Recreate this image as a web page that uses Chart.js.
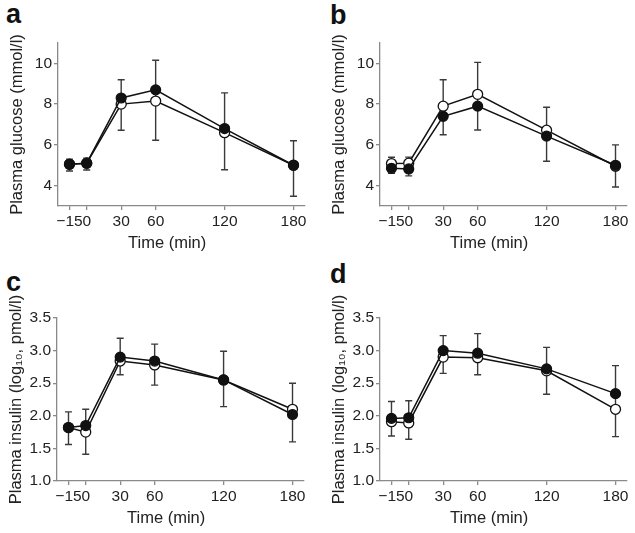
<!DOCTYPE html>
<html lang="en">
<head>
    <meta charset="UTF-8">
    <title>Plasma glucose and insulin</title>
<style>
body{margin:0;background:#fff;width:635px;height:533px;position:relative;overflow:hidden;font-family:'Liberation Sans',Arial,sans-serif}
canvas{position:absolute}
.lbl{position:absolute;font-weight:bold;font-size:27px;line-height:27px;color:#111}
</style>
</head>
<body>
<div class="lbl" style="left:6px;top:1px">a</div>
<div class="lbl" style="left:330px;top:2px">b</div>
<div class="lbl" style="left:6px;top:269px">c</div>
<div class="lbl" style="left:330px;top:261px">d</div>
<canvas id="chartA" width="317" height="265" style="left:0;top:0"></canvas>
<canvas id="chartB" width="317" height="265" style="left:322px;top:0"></canvas>
<canvas id="chartC" width="317" height="265" style="left:-1px;top:275px"></canvas>
<canvas id="chartD" width="317" height="265" style="left:322px;top:275px"></canvas>
</body>
<script src="https://cdn.jsdelivr.net/npm/chart.js"></script>
<script>
// time points (min)
var times=[-15,0,30,60,120,180];
var glucoseTicks=[4,6,8,10];
var insulinTicks=[1.0,1.5,2.0,2.5,3.0,3.5];

// a: plasma glucose
var aFilled=[5.05,5.1,8.3,8.7,6.8,5.0];
var aOpen=[5.05,5.1,8.0,8.15,6.6,5.0];
var aErrHigh=[5.3,5.35,9.2,10.15,8.55,6.2];
var aErrLow=[4.72,4.77,6.72,6.23,4.78,3.48];

// b: plasma glucose
var bFilled=[4.85,4.82,7.4,7.9,6.43,5.0];
var bOpen=[5.08,5.1,7.9,8.48,6.72,4.95];
var bErrHigh=[5.39,5.4,9.2,10.05,7.85,6.0];
var bErrLow=[4.6,4.48,6.5,6.73,5.2,3.93];

// c: plasma insulin (log10)
var cFilled=[1.82,1.85,2.9,2.84,2.55,2.02];
var cOpen=[1.82,1.75,2.84,2.78,2.55,2.1];
var cErrHigh=[2.06,2.1,3.19,3.1,2.99,2.5];
var cErrLow=[1.56,1.41,2.63,2.47,2.14,1.6];

// d: plasma insulin (log10)
var dFilled=[1.96,1.97,3.0,2.96,2.72,2.34];
var dOpen=[1.91,1.89,2.9,2.89,2.69,2.1];
var dErrHigh=[2.22,2.23,3.23,3.26,3.05,2.77];
var dErrLow=[1.69,1.64,2.65,2.63,2.33,1.68];

Chart.defaults.font.family="'Liberation Sans', Arial, sans-serif";
Chart.defaults.color='#222';

var errorBars={
    id:'errbars',
    beforeDatasetsDraw:function(chart,args,opts){
        var ctx=chart.ctx,xs=chart.scales.x,ys=chart.scales.y;
        ctx.save();
        ctx.strokeStyle='#3a3a3a';
        ctx.lineWidth=1.4;
        for(var i=0;i<times.length;i++){
            var x=xs.getPixelForValue(times[i]);
            var y1=ys.getPixelForValue(opts.hi[i]);
            var y2=ys.getPixelForValue(opts.lo[i]);
            ctx.beginPath();
            ctx.moveTo(x,y1);ctx.lineTo(x,y2);
            ctx.moveTo(x-3.5,y1);ctx.lineTo(x+3.5,y1);
            ctx.moveTo(x-3.5,y2);ctx.lineTo(x+3.5,y2);
            ctx.stroke();
        }
        ctx.restore();
    },
    // x title sits a little left of centre in the original
    afterDraw:function(chart){
        var ctx=chart.ctx,xs=chart.scales.x;
        ctx.save();
        ctx.fillStyle='#222';
        ctx.font="16.5px 'Liberation Sans', Arial, sans-serif";
        ctx.textAlign='center';
        ctx.textBaseline='middle';
        ctx.fillText('Time (min)',xs.getPixelForValue(70),xs.bottom-22);
        ctx.restore();
    }
};

function pts(vals){
    return vals.map(function(v,i){return {x:times[i],y:v}});
}

function makeChart(id,filled,open,hi,lo,ymin,ymax,yTicks,yTitle,decimals){
    var ctx=document.getElementById(id).getContext('2d');
    return new Chart(ctx,{
        type:'line',
        data:{datasets:[
            {data:pts(filled),borderColor:'#111',borderWidth:1.5,pointRadius:5,pointBackgroundColor:'#111',pointBorderColor:'#111',pointBorderWidth:1.2},
            {data:pts(open),borderColor:'#111',borderWidth:1.5,pointRadius:5,pointBackgroundColor:'#fff',pointBorderColor:'#111',pointBorderWidth:1.3}
        ]},
        options:{
            responsive:false,animation:false,
            layout:{padding:{top:43,right:12,left:0,bottom:0}},
            plugins:{legend:{display:false},tooltip:{enabled:false},errbars:{hi:hi,lo:lo}},
            scales:{
                x:{type:'linear',min:-25,max:190,
                    afterBuildTicks:function(s){s.ticks=times.map(function(v){return {value:v}})},
                    afterFit:function(s){s.height=59},
                    grid:{drawOnChartArea:false,tickLength:4,color:'#8a8a8a',lineWidth:1.3},
                    border:{color:'#8a8a8a',width:1.3},
                    ticks:{autoSkip:false,maxRotation:0,padding:2,font:{size:15.5},
                        callback:function(v){return v<0?'\u2212'+Math.abs(v):String(v)}}
                },
                y:{type:'linear',min:ymin,max:ymax,
                    afterBuildTicks:function(s){s.ticks=yTicks.map(function(v){return {value:v}})},
                    afterFit:function(s){s.width=58},
                    grid:{drawOnChartArea:false,tickLength:4,color:'#8a8a8a',lineWidth:1.3},
                    border:{color:'#8a8a8a',width:1.3},
                    ticks:{padding:2,font:{size:15.5},callback:function(v){return v.toFixed(decimals)}},
                    title:{display:true,text:yTitle,font:{size:16.5},padding:{top:8,bottom:0}}
                }
            }
        },
        plugins:[errorBars]
    });
}

makeChart('chartA',aFilled,aOpen,aErrHigh,aErrLow,3,11,glucoseTicks,'Plasma glucose (mmol/l)',0);
makeChart('chartB',bFilled,bOpen,bErrHigh,bErrLow,3,11,glucoseTicks,'Plasma glucose (mmol/l)',0);
makeChart('chartC',cFilled,cOpen,cErrHigh,cErrLow,1,3.5,insulinTicks,'Plasma insulin (log\u2081\u2080, pmol/l)',1);
makeChart('chartD',dFilled,dOpen,dErrHigh,dErrLow,1,3.5,insulinTicks,'Plasma insulin (log\u2081\u2080, pmol/l)',1);
</script>
</html>
